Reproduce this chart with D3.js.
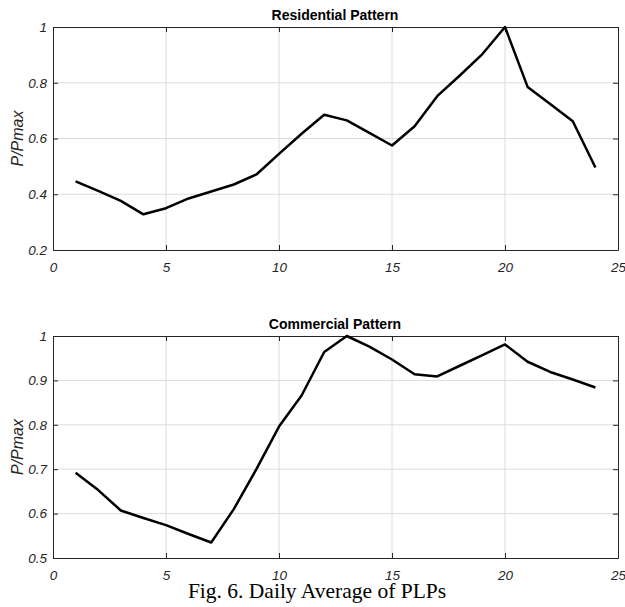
<!DOCTYPE html>
<html>
<head>
<meta charset="utf-8">
<script src="https://cdn.jsdelivr.net/npm/d3@7/dist/d3.min.js"></script>
<style>
  body { margin: 0; background: #fff; }
  svg text { font-family: "Liberation Sans", Arial, sans-serif; }
</style>
</head>
<body>
<svg id="chart" width="625" height="607"></svg>
<script>
    // hour of day
    var hours = d3.range(1, 25);

    var residential = [0.446, 0.412, 0.376, 0.328, 0.350, 0.385, 0.410, 0.435, 0.471, 0.545,
                       0.617, 0.685, 0.665, 0.620, 0.575, 0.644, 0.752, 0.826, 0.903, 1.000,
                       0.785, 0.724, 0.662, 0.496];
    var commercial = [0.692, 0.653, 0.607, 0.590, 0.574, 0.554, 0.535, 0.610, 0.700, 0.796,
                      0.866, 0.964, 1.000, 0.976, 0.947, 0.914, 0.909, 0.933, 0.957, 0.981,
                      0.942, 0.919, 0.902, 0.884];

    var xTicks = [0, 5, 10, 15, 20, 25];
    var resTicks = [0.2, 0.4, 0.6, 0.8, 1];
    var comTicks = [0.5, 0.6, 0.7, 0.8, 0.9, 1];

    var svg = d3.select("#chart");
    var left = 53, right = 618;

    var panels = [
        { title: "Residential Pattern", values: residential, domain: [0.2, 1], ticks: resTicks, top: 27, bottom: 250 },
        { title: "Commercial Pattern", values: commercial, domain: [0.5, 1], ticks: comTicks, top: 336, bottom: 558 }
    ];

    var x = d3.scaleLinear().domain([0, 25]).range([left, right]);

    panels.forEach(function (p) {
        var y = d3.scaleLinear().domain(p.domain).range([p.bottom, p.top]);
        var g = svg.append("g");

        // grid
        g.selectAll("line.vg").data(xTicks.slice(1, -1)).enter().append("line")
            .attr("x1", d => x(d)).attr("x2", d => x(d))
            .attr("y1", p.top).attr("y2", p.bottom)
            .attr("stroke", "#dcdcdc").attr("stroke-width", 1);
        g.selectAll("line.hg").data(p.ticks.slice(1, -1)).enter().append("line")
            .attr("x1", left).attr("x2", right)
            .attr("y1", d => y(d)).attr("y2", d => y(d))
            .attr("stroke", "#dcdcdc").attr("stroke-width", 1);

        // axes with inward ticks
        var fmt = d => String(d);
        g.append("g").attr("transform", "translate(0," + p.bottom + ")")
            .call(d3.axisBottom(x).tickValues(xTicks).tickSizeInner(-5).tickSizeOuter(0).tickPadding(12).tickFormat(fmt));
        g.append("g").attr("transform", "translate(0," + p.top + ")")
            .call(d3.axisTop(x).tickValues(xTicks).tickSizeInner(-5).tickSizeOuter(0).tickFormat(""));
        g.append("g").attr("transform", "translate(" + left + ",0)")
            .call(d3.axisLeft(y).tickValues(p.ticks).tickSizeInner(-5).tickSizeOuter(0).tickPadding(6).tickFormat(fmt));
        g.append("g").attr("transform", "translate(" + right + ",0)")
            .call(d3.axisRight(y).tickValues(p.ticks).tickSizeInner(-5).tickSizeOuter(0).tickFormat(""));

        g.selectAll(".domain").attr("stroke", "#262626");
        g.selectAll(".tick line").attr("stroke", "#262626");
        g.selectAll(".tick text")
            .attr("fill", "#262626")
            .style("font-size", "13.5px")
            .style("font-style", "italic");

        // series
        g.append("path")
            .datum(p.values)
            .attr("fill", "none")
            .attr("stroke", "#000")
            .attr("stroke-width", 2.5)
            .attr("stroke-linejoin", "round")
            .attr("d", d3.line().x((d, i) => x(hours[i])).y(d => y(d)));

        g.append("text")
            .attr("x", 335).attr("y", p.top - 7)
            .attr("text-anchor", "middle")
            .style("font-size", "14px").style("font-weight", "bold")
            .text(p.title);

        g.append("text")
            .attr("transform", "translate(23," + (p.top + p.bottom) / 2 + ") rotate(-90)")
            .attr("text-anchor", "middle")
            .style("font-size", "16px").style("font-style", "italic")
            .attr("fill", "#262626")
            .text("P/Pmax");
    });

    svg.append("text")
        .attr("x", 317).attr("y", 598)
        .attr("text-anchor", "middle")
        .style("font-family", "'Liberation Serif', 'Times New Roman', serif")
        .style("font-size", "21.5px")
        .text("Fig. 6. Daily Average of PLPs");
</script>
</body>
</html>
